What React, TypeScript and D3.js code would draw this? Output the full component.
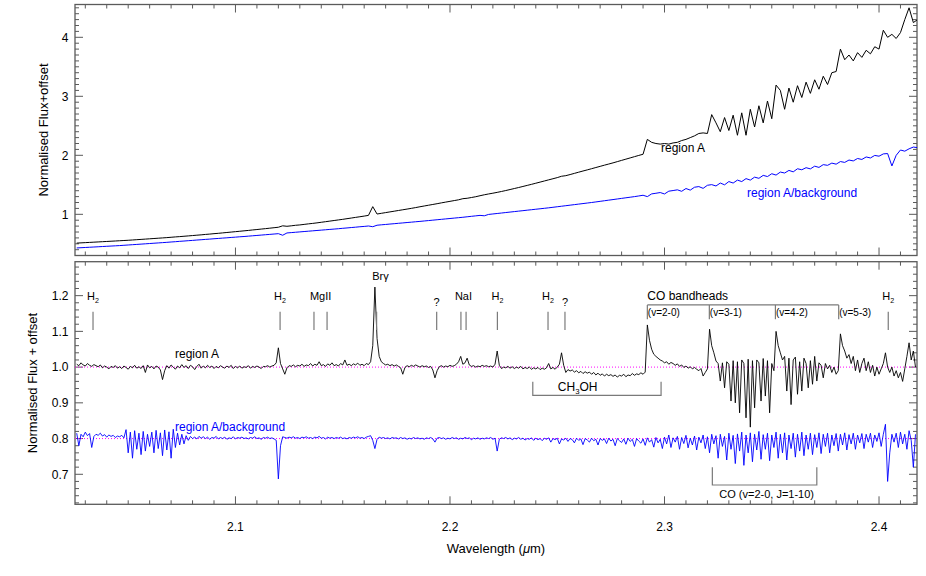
import { useEffect, useRef } from "react"
import * as d3 from "d3"

// wavelength grids of the two panels (micron)
const topStart = 2.026
const topStep = 0.002
const botStart = 2.026
const botStep = 0.001

// top panel: region A spectrum (normalised flux + offset)
const topRegionA = [
  0.512, 0.516, 0.52, 0.524, 0.528, 0.532, 0.536, 0.54, 0.544, 0.548,
  0.552, 0.556, 0.56, 0.565, 0.57, 0.575, 0.58, 0.585, 0.59, 0.595,
  0.6, 0.605, 0.611, 0.617, 0.622, 0.628, 0.634, 0.64, 0.646, 0.652,
  0.659, 0.665, 0.672, 0.678, 0.685, 0.692, 0.699, 0.706, 0.713, 0.72,
  0.727, 0.735, 0.742, 0.75, 0.757, 0.765, 0.773, 0.781, 0.805, 0.797,
  0.805, 0.814, 0.82, 0.829, 0.838, 0.846, 0.855, 0.865, 0.875, 0.885,
  0.895, 0.905, 0.915, 0.926, 0.937, 0.948, 0.959, 0.97, 0.982, 1.13,
  1.005, 1.017, 1.029, 1.041, 1.053, 1.065, 1.077, 1.089, 1.101, 1.114,
  1.128, 1.141, 1.154, 1.167, 1.18, 1.194, 1.207, 1.22, 1.233, 1.246,
  1.265, 1.272, 1.285, 1.298, 1.315, 1.331, 1.345, 1.358, 1.372, 1.387,
  1.403, 1.42, 1.437, 1.454, 1.472, 1.49, 1.508, 1.527, 1.546, 1.565,
  1.584, 1.603, 1.622, 1.645, 1.655, 1.674, 1.694, 1.714, 1.734, 1.753,
  1.773, 1.793, 1.813, 1.833, 1.852, 1.872, 1.893, 1.914, 1.935, 1.956,
  1.977, 1.998, 2.018, 2.27, 2.22, 2.2, 2.19, 2.2, 2.19, 2.21,
  2.22, 2.25, 2.27, 2.3, 2.33, 2.37, 2.38, 2.37, 2.69, 2.55,
  2.4, 2.64, 2.42, 2.68, 2.34, 2.72, 2.34, 2.78, 2.48, 2.84,
  2.55, 2.92, 2.62, 3.19, 3.1, 2.78, 3.14, 2.9, 3.18, 2.98,
  3.24, 3.05, 3.28, 3.12, 3.34, 3.2, 3.4, 3.42, 3.8, 3.62,
  3.7, 3.6, 3.74, 3.66, 3.78, 3.72, 3.84, 3.8, 4.12, 4.0,
  4.05, 3.98, 4.08, 4.3, 4.5, 4.25, 4.3,
]

// top panel: region A / background
const topRatio = [
  0.43, 0.434, 0.438, 0.442, 0.446, 0.45, 0.454, 0.458, 0.462, 0.466,
  0.47, 0.475, 0.48, 0.485, 0.49, 0.495, 0.5, 0.505, 0.51, 0.515,
  0.52, 0.525, 0.531, 0.536, 0.542, 0.547, 0.553, 0.558, 0.564, 0.569,
  0.575, 0.58, 0.586, 0.591, 0.597, 0.602, 0.608, 0.613, 0.619, 0.624,
  0.63, 0.636, 0.642, 0.648, 0.654, 0.66, 0.666, 0.672, 0.645, 0.684,
  0.69, 0.696, 0.702, 0.708, 0.714, 0.72, 0.726, 0.732, 0.738, 0.744,
  0.75, 0.756, 0.763, 0.769, 0.776, 0.782, 0.789, 0.795, 0.802, 0.79,
  0.815, 0.822, 0.828, 0.835, 0.841, 0.848, 0.854, 0.861, 0.867, 0.874,
  0.88, 0.887, 0.894, 0.901, 0.908, 0.915, 0.922, 0.929, 0.936, 0.943,
  0.95, 0.958, 0.966, 0.974, 0.982, 0.975, 0.998, 1.006, 1.014, 1.022,
  1.03, 1.038, 1.046, 1.054, 1.062, 1.07, 1.078, 1.086, 1.094, 1.102,
  1.11, 1.119, 1.128, 1.137, 1.146, 1.155, 1.164, 1.173, 1.182, 1.191,
  1.2, 1.21, 1.22, 1.23, 1.24, 1.25, 1.26, 1.27, 1.28, 1.29,
  1.3, 1.311, 1.323, 1.3, 1.346, 1.357, 1.369, 1.345, 1.392, 1.403,
  1.415, 1.39, 1.437, 1.41, 1.459, 1.47, 1.44, 1.492, 1.503, 1.48,
  1.53, 1.5, 1.555, 1.53, 1.58, 1.555, 1.605, 1.58, 1.63, 1.61,
  1.66, 1.64, 1.688, 1.665, 1.716, 1.7, 1.744, 1.72, 1.772, 1.755,
  1.79, 1.77, 1.816, 1.795, 1.842, 1.83, 1.868, 1.85, 1.894, 1.88,
  1.92, 1.905, 1.946, 1.93, 1.972, 1.955, 1.998, 1.985, 2.024, 2.03,
  1.82, 2.0, 2.09, 2.07, 2.11, 2.14, 2.13,
]

// bottom panel: region A, continuum normalised
const botRegionA = [
  1.008, 1.004, 1.012, 1.006, 1.003, 1.01, 1.005, 1.002, 1.007, 1.004,
  1.001, 1.006, 0.998, 1.003, 1.0, 0.995, 1.002, 0.999, 1.004, 0.997,
  1.001, 0.996, 1.003, 0.999, 0.994, 1.002, 0.998, 1.005, 0.997, 1.001,
  0.996, 1.004, 0.985, 1.006, 0.998, 1.002, 0.995, 1.003, 1.0, 0.992,
  0.965, 0.99, 1.004, 0.997, 1.006, 1.0, 0.994, 1.003, 0.998, 1.007,
  0.999, 1.004, 0.996, 1.005, 1.001, 0.993, 1.002, 1.008, 0.997, 1.003,
  0.998, 1.005, 0.999, 1.003, 0.996, 1.002, 0.998, 1.004, 1.0, 0.997,
  1.003, 0.999, 1.005, 0.996, 1.002, 0.998, 1.003, 0.997, 1.001, 0.999,
  1.004, 0.997, 1.002, 0.999, 1.003, 1.0, 0.996, 1.002, 1.001, 1.004,
  1.0, 1.003, 1.005, 1.012, 1.054, 1.01, 0.995, 0.98, 0.998, 1.004,
  1.002, 1.006, 1.001, 1.005, 1.003, 1.008, 1.002, 1.006, 1.004, 1.01,
  1.003, 1.008, 1.005, 1.015, 1.004, 1.007, 1.002, 1.009, 1.005, 1.012,
  1.004, 1.007, 1.003, 1.01, 1.006, 1.02, 1.005, 1.008, 1.004, 1.009,
  1.006, 1.011, 1.005, 1.008, 1.004, 1.01, 1.007, 1.015, 1.06, 1.224,
  1.08, 1.03, 1.015, 1.01, 1.006, 1.008, 1.004, 1.007, 1.003, 1.006,
  1.002, 0.998, 0.98, 0.999, 1.004, 1.001, 1.005, 1.002, 1.006, 1.003,
  1.0, 1.004, 1.001, 1.003, 0.999, 1.002, 0.992, 0.97, 0.99, 1.001,
  1.004, 1.0, 1.003, 1.001, 1.005, 1.002, 1.004, 1.008, 1.015, 1.03,
  1.008, 1.012, 1.025, 1.006, 1.002, 1.004, 1.0, 1.003, 1.001, 1.005,
  1.002, 1.004, 1.001, 1.003, 1.0, 1.008, 1.045, 1.005, 0.996, 1.0,
  0.998, 1.002, 0.997, 1.001, 0.996, 1.0, 0.997, 1.002, 0.995, 0.999,
  0.996, 1.0, 0.994, 0.998, 0.995, 0.999, 0.993, 0.997, 0.994, 0.998,
  1.01, 0.995, 0.999, 0.994, 1.0, 1.008, 1.04, 1.005, 0.985, 0.993,
  0.989, 0.992, 0.986, 0.99, 0.984, 0.988, 0.982, 0.987, 0.983, 0.986,
  0.98, 0.985, 0.978, 0.983, 0.977, 0.981, 0.975, 0.98, 0.976, 0.979,
  0.974, 0.978, 0.972, 0.977, 0.975, 0.98, 0.973, 0.978, 0.976, 0.982,
  0.977, 0.981, 0.979, 0.984, 0.98, 0.986, 1.118, 1.075, 1.05, 1.036,
  1.03, 1.025, 1.02, 1.017, 1.012, 1.015, 1.008, 1.013, 1.01, 1.005,
  1.009, 1.002, 1.006, 0.999, 1.003, 0.997, 1.001, 0.995, 0.999, 0.994,
  0.99, 0.996, 0.975, 0.985, 0.995, 1.106, 1.06, 1.04, 1.017, 1.01,
  0.961, 1.012, 0.942, 1.015, 1.008, 0.905, 1.018, 0.9, 1.015, 0.872,
  1.02, 1.01, 0.858, 1.022, 0.832, 1.018, 0.886, 1.02, 1.012, 0.905,
  1.024, 0.919, 1.018, 0.872, 1.01, 0.99, 1.1, 1.06, 1.04, 1.02,
  1.03, 0.933, 1.025, 0.895, 1.02, 1.028, 0.924, 1.015, 0.933, 1.025,
  1.01, 0.942, 1.018, 0.952, 1.03, 0.961, 1.012, 1.005, 0.97, 1.01,
  0.995, 1.005, 0.985, 1.0, 0.98, 0.99, 1.093, 1.06, 1.045, 1.025,
  1.035, 1.01, 1.03, 0.99, 1.02, 0.985, 1.01, 1.025, 0.99, 1.015,
  0.985, 1.005, 0.975, 1.0, 0.98, 0.995, 1.01, 1.04, 1.0, 0.985,
  1.0, 0.975, 0.99, 0.97, 0.985, 0.96, 0.995, 1.03, 1.068, 1.02,
  1.045, 1.0,
]

// bottom panel: region A / background, offset to 0.8
const botRatio = [
  0.815, 0.78, 0.812, 0.805, 0.818, 0.808, 0.814, 0.775, 0.806, 0.812,
  0.809, 0.815, 0.807, 0.811, 0.804, 0.81, 0.806, 0.809, 0.803, 0.807,
  0.805, 0.809, 0.802, 0.825, 0.76, 0.818, 0.745, 0.822, 0.77, 0.815,
  0.755, 0.82, 0.765, 0.812, 0.778, 0.818, 0.76, 0.823, 0.772, 0.816,
  0.752, 0.824, 0.768, 0.819, 0.745, 0.826, 0.775, 0.815, 0.782, 0.812,
  0.785, 0.808, 0.795, 0.806, 0.8, 0.804, 0.799, 0.806, 0.801, 0.805,
  0.8, 0.804, 0.798, 0.803, 0.801, 0.806, 0.799, 0.803, 0.8, 0.804,
  0.798, 0.802, 0.8, 0.805, 0.799, 0.803, 0.801, 0.804, 0.8, 0.802,
  0.799, 0.803, 0.801, 0.805, 0.8, 0.802, 0.798, 0.803, 0.801, 0.804,
  0.8, 0.802, 0.799, 0.795, 0.687, 0.78, 0.805, 0.803, 0.801, 0.804,
  0.802, 0.805, 0.801, 0.803, 0.8, 0.804, 0.802, 0.805, 0.801, 0.803,
  0.8, 0.804, 0.802, 0.806, 0.801, 0.803, 0.799, 0.804, 0.801, 0.803,
  0.8, 0.803, 0.801, 0.804, 0.8, 0.802, 0.799, 0.803, 0.801, 0.804,
  0.802, 0.805, 0.801, 0.803, 0.8, 0.804, 0.806, 0.808, 0.795, 0.772,
  0.798, 0.804, 0.801, 0.803, 0.8, 0.802, 0.799, 0.803, 0.801, 0.802,
  0.799, 0.803, 0.8, 0.802, 0.798, 0.801, 0.799, 0.803, 0.8, 0.802,
  0.799, 0.801, 0.798, 0.802, 0.8, 0.803, 0.799, 0.79, 0.801, 0.803,
  0.8, 0.802, 0.798, 0.801, 0.799, 0.803, 0.8, 0.802, 0.798, 0.801,
  0.799, 0.803, 0.8, 0.802, 0.797, 0.801, 0.799, 0.802, 0.798, 0.801,
  0.799, 0.802, 0.8, 0.803, 0.798, 0.801, 0.765, 0.798, 0.802, 0.8,
  0.803, 0.799, 0.802, 0.797, 0.801, 0.799, 0.803, 0.798, 0.801, 0.796,
  0.8, 0.798, 0.802, 0.795, 0.801, 0.797, 0.8, 0.794, 0.801, 0.798,
  0.802, 0.79, 0.8, 0.797, 0.801, 0.785, 0.799, 0.796, 0.801, 0.792,
  0.8, 0.797, 0.788, 0.801, 0.795, 0.799, 0.783, 0.8, 0.796, 0.79,
  0.801, 0.794, 0.798, 0.782, 0.8, 0.795, 0.799, 0.786, 0.801, 0.793,
  0.798, 0.78, 0.8, 0.794, 0.789, 0.799, 0.784, 0.801, 0.792, 0.798,
  0.778, 0.8, 0.793, 0.787, 0.799, 0.781, 0.802, 0.79, 0.797, 0.776,
  0.803, 0.788, 0.798, 0.772, 0.804, 0.785, 0.81, 0.775, 0.802, 0.79,
  0.806, 0.77, 0.803, 0.786, 0.809, 0.774, 0.801, 0.782, 0.807, 0.768,
  0.804, 0.788, 0.81, 0.772, 0.805, 0.76, 0.812, 0.785, 0.808, 0.745,
  0.812, 0.778, 0.806, 0.74, 0.815, 0.77, 0.809, 0.73, 0.813, 0.765,
  0.818, 0.725, 0.81, 0.76, 0.816, 0.735, 0.812, 0.768, 0.82, 0.742,
  0.811, 0.77, 0.815, 0.738, 0.81, 0.775, 0.818, 0.745, 0.812, 0.76,
  0.816, 0.74, 0.81, 0.772, 0.815, 0.748, 0.812, 0.765, 0.818, 0.752,
  0.81, 0.77, 0.815, 0.755, 0.811, 0.775, 0.816, 0.758, 0.812, 0.778,
  0.815, 0.76, 0.81, 0.78, 0.814, 0.765, 0.812, 0.782, 0.816, 0.768,
  0.811, 0.785, 0.815, 0.77, 0.81, 0.788, 0.814, 0.772, 0.812, 0.79,
  0.815, 0.775, 0.81, 0.792, 0.816, 0.778, 0.812, 0.84, 0.68, 0.76,
  0.812, 0.79, 0.815, 0.775, 0.818, 0.785, 0.812, 0.77, 0.822, 0.795,
  0.72, 0.812,
]

// line identifications (short grey markers) in the bottom panel
const markerWavelengths = [2.0336, 2.1208, 2.1366, 2.1427, 2.1658, 2.1938, 2.2051, 2.2075, 2.2221, 2.2457, 2.2536, 2.4043]
const markerLabels = [
  { name: "H", sub: "2", wl: 2.0336 },
  { name: "H", sub: "2", wl: 2.1208 },
  { name: "MgII", sub: "", wl: 2.1397 },
  { name: "Brγ", sub: "", wl: 2.1676 },
  { name: "?", sub: "", wl: 2.1938 },
  { name: "NaI", sub: "", wl: 2.2063 },
  { name: "H", sub: "2", wl: 2.2221 },
  { name: "H", sub: "2", wl: 2.2457 },
  { name: "?", sub: "", wl: 2.2536 },
  { name: "H", sub: "2", wl: 2.4043 },
]

const coBandheads = [
  { wl: 2.292, label: "(v=2-0)" },
  { wl: 2.3209, label: "(v=3-1)" },
  { wl: 2.3517, label: "(v=4-2)" },
  { wl: 2.3812, label: "(v=5-3)" },
]
const ch3ohRange = [2.2386, 2.2984]
const coAbsRange = [2.3223, 2.371]

const font = "'Liberation Sans', Arial, Helvetica, sans-serif"
const frameColor = "#5a5a5a"
const markColor = "#7a7a7a"

type Part = { t: string; sub?: boolean; italic?: boolean }

export default function App() {
  const svgRef = useRef<SVGSVGElement | null>(null)

  useEffect(() => {
    if (!svgRef.current) return
    const svg = d3.select(svgRef.current)
    svg.selectAll("*").remove()

    const left = 75
    const right = 917
    const top1 = 4.5
    const bot1 = 255.5
    const top2 = 261.7
    const bot2 = 504.3

    const x = d3.scaleLinear().domain([2.0252, 2.4177]).range([left, right])
    const yTop = d3.scaleLinear().domain([0.302, 4.556]).range([bot1, top1])
    const yBot = d3.scaleLinear().domain([0.616, 1.295]).range([bot2, top2])

    const richText = (g: any, px: number, py: number, parts: Part[], size: number, anchor = "middle", fill = "#000") => {
      const text = g
        .append("text")
        .attr("x", px)
        .attr("y", py)
        .attr("font-size", size)
        .attr("font-family", font)
        .attr("text-anchor", anchor)
        .attr("fill", fill)
      let shifted = false
      parts.forEach((p) => {
        const ts = text.append("tspan").text(p.t)
        if (p.italic) ts.attr("font-style", "italic")
        if (p.sub) {
          ts.attr("dy", size * 0.3).attr("font-size", size * 0.65)
          shifted = true
        } else if (shifted) {
          ts.attr("dy", -size * 0.3)
          shifted = false
        }
      })
      return text
    }

    const xMajor = x.ticks(4)
    const xMinor = x.ticks(40)

    const drawFrame = (y: any, yT: number, yB: number, majorCount: number, minorCount: number, fmt: (v: number) => string, clipId: string) => {
      const g = svg.append("g").attr("stroke", frameColor).attr("stroke-width", 1)
      xMinor.forEach((t) => {
        const major = xMajor.some((m) => Math.abs(m - t) < 1e-9)
        const len = major ? 8 : 4
        g.append("line").attr("x1", x(t)).attr("x2", x(t)).attr("y1", yB).attr("y2", yB - len)
        g.append("line").attr("x1", x(t)).attr("x2", x(t)).attr("y1", yT).attr("y2", yT + len)
      })
      const yMajor = y.ticks(majorCount)
      y.ticks(minorCount).forEach((t: number) => {
        const major = yMajor.some((m: number) => Math.abs(m - t) < 1e-9)
        const len = major ? 8 : 4
        g.append("line").attr("x1", left).attr("x2", left + len).attr("y1", y(t)).attr("y2", y(t))
        g.append("line").attr("x1", right).attr("x2", right - len).attr("y1", y(t)).attr("y2", y(t))
      })
      g.append("rect")
        .attr("x", left)
        .attr("y", yT)
        .attr("width", right - left)
        .attr("height", yB - yT)
        .attr("fill", "none")
        .attr("stroke-width", 1.3)
      yMajor.forEach((t: number) => {
        svg
          .append("text")
          .attr("x", left - 6.5)
          .attr("y", y(t))
          .attr("dy", "0.36em")
          .attr("text-anchor", "end")
          .attr("font-size", 12)
          .attr("font-family", font)
          .text(fmt(t))
      })
      svg
        .append("clipPath")
        .attr("id", clipId)
        .append("rect")
        .attr("x", left)
        .attr("y", yT)
        .attr("width", right - left)
        .attr("height", yB - yT)
    }

    drawFrame(yTop, top1, bot1, 4, 40, d3.format("d"), "clipTop")
    drawFrame(yBot, top2, bot2, 6, 34, d3.format(".1f"), "clipBot")

    // x tick labels and titles
    xMajor.forEach((t) => {
      svg
        .append("text")
        .attr("x", x(t))
        .attr("y", 527)
        .attr("dy", "0.36em")
        .attr("text-anchor", "middle")
        .attr("font-size", 12)
        .attr("font-family", font)
        .text(d3.format(".1f")(t))
    })
    richText(svg, (left + right) / 2, 553, [{ t: "Wavelength (" }, { t: "μ", italic: true }, { t: "m)" }], 13)

    svg
      .append("text")
      .attr("transform", `translate(43,${(top1 + bot1) / 2}) rotate(-90)`)
      .attr("dy", "0.36em")
      .attr("text-anchor", "middle")
      .attr("font-size", 13)
      .attr("font-family", font)
      .text("Normalised Flux+offset")
    svg
      .append("text")
      .attr("transform", `translate(32,${(top2 + bot2) / 2}) rotate(-90)`)
      .attr("dy", "0.36em")
      .attr("text-anchor", "middle")
      .attr("font-size", 13)
      .attr("font-family", font)
      .text("Normalised Flux + offset")

    // reference levels in the bottom panel
    ;[1.0, 0.8].forEach((v) => {
      svg
        .append("line")
        .attr("x1", left)
        .attr("x2", right)
        .attr("y1", yBot(v))
        .attr("y2", yBot(v))
        .attr("stroke", "#ff00ff")
        .attr("stroke-width", 1)
        .attr("stroke-dasharray", "1,2")
    })

    const drawSpectrum = (values: number[], start: number, step: number, y: any, color: string, clipId: string, width = 1) => {
      const line = d3
        .line<number>()
        .x((d, i) => x(start + i * step))
        .y((d) => y(d))
      svg
        .append("path")
        .datum(values)
        .attr("d", line)
        .attr("fill", "none")
        .attr("stroke", color)
        .attr("stroke-width", width)
        .attr("stroke-linejoin", "round")
        .attr("clip-path", `url(#${clipId})`)
    }

    drawSpectrum(topRatio, topStart, topStep, yTop, "#0000ff", "clipTop", 1)
    drawSpectrum(topRegionA, topStart, topStep, yTop, "#000000", "clipTop", 1)
    drawSpectrum(botRatio, botStart, botStep, yBot, "#0000ff", "clipBot", 0.9)
    drawSpectrum(botRegionA, botStart, botStep, yBot, "#000000", "clipBot", 0.9)

    // series labels
    richText(svg, 661, 152, [{ t: "region A" }], 12, "start")
    richText(svg, 747, 197, [{ t: "region A/background" }], 12, "start", "#0000ff")
    richText(svg, 175, 358, [{ t: "region A" }], 12, "start")
    richText(svg, 175, 431, [{ t: "region A/background" }], 12, "start", "#0000ff")

    // line markers
    const ann = svg.append("g")
    markerWavelengths.forEach((wl) => {
      ann
        .append("line")
        .attr("x1", x(wl))
        .attr("x2", x(wl))
        .attr("y1", yBot(1.155))
        .attr("y2", yBot(1.104))
        .attr("stroke", markColor)
        .attr("stroke-width", 1.2)
    })
    markerLabels.forEach((m) => {
      const level = m.name === "?" ? 1.171 : m.name === "Brγ" ? 1.243 : 1.188
      const parts: Part[] = m.sub ? [{ t: m.name }, { t: m.sub, sub: true }] : [{ t: m.name }]
      richText(ann, x(m.wl), yBot(level), parts, 11)
    })

    // CO bandheads bracket
    const coTop = yBot(1.174)
    const coTick = yBot(1.134)
    ann
      .append("line")
      .attr("x1", x(coBandheads[0].wl))
      .attr("x2", x(coBandheads[coBandheads.length - 1].wl))
      .attr("y1", coTop)
      .attr("y2", coTop)
      .attr("stroke", markColor)
      .attr("stroke-width", 1.2)
    coBandheads.forEach((b) => {
      ann
        .append("line")
        .attr("x1", x(b.wl))
        .attr("x2", x(b.wl))
        .attr("y1", coTop)
        .attr("y2", coTick)
        .attr("stroke", markColor)
        .attr("stroke-width", 1.2)
      richText(ann, x(b.wl) + 0.5, coTop + 11, [{ t: b.label }], 10, "start")
    })
    richText(ann, x(coBandheads[0].wl), coTop - 4.5, [{ t: "CO bandheads" }], 12, "start")

    // absorption brackets
    const bracket = (range: number[], base: number, tip: number) => {
      ann
        .append("path")
        .attr("d", `M${x(range[0])},${yBot(tip)}V${yBot(base)}H${x(range[1])}V${yBot(tip)}`)
        .attr("fill", "none")
        .attr("stroke", markColor)
        .attr("stroke-width", 1.2)
    }
    bracket(ch3ohRange, 0.921, 0.959)
    richText(ann, x(2.2595), 390.5, [{ t: "CH" }, { t: "3", sub: true }, { t: "OH" }], 12)
    bracket(coAbsRange, 0.67, 0.7196)
    richText(ann, x(2.3476), 498, [{ t: "CO (v=2-0, J=1-10)" }], 11)
  }, [])

  return (
    <svg
      ref={svgRef}
      width={926}
      height={576}
      style={{ position: "absolute", left: 0, top: 0, background: "#ffffff" }}
    />
  )
}
